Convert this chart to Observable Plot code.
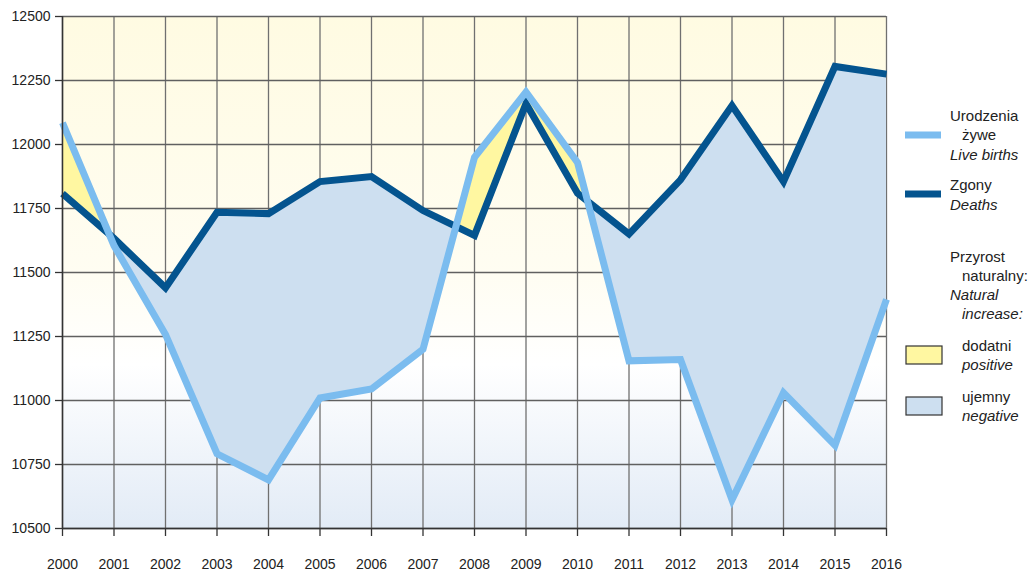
<!DOCTYPE html>
<html>
<head>
<meta charset="utf-8">
<script src="https://cdn.jsdelivr.net/npm/d3@7"></script>
<script src="https://cdn.jsdelivr.net/npm/@observablehq/plot@0.6"></script>
<style>
  html, body { margin: 0; padding: 0; background: #fff; }
  #wrap { position: relative; width: 1032px; height: 575px; font-family: "Liberation Sans", Arial, sans-serif; }
  #legend { position: absolute; left: 0; top: 0; }
</style>
</head>
<body>
<div id="wrap"></div>
<script>
const years  = [2000,2001,2002,2003,2004,2005,2006,2007,2008,2009,2010,2011,2012,2013,2014,2015,2016];
const births = [12085,11605,11258,10792,10690,11010,11045,11200,11950,12205,11930,11155,11160,10612,11030,10825,11395];
const deaths = [11808,11633,11440,11735,11730,11855,11875,11742,11645,12160,11810,11650,11862,12152,11855,12305,12275];
const yTicks = [10500,10750,11000,11250,11500,11750,12000,12250,12500];

const legendLines = [
  {label: ["Urodzenia", "żywe"], en: "Live births", color: "#7bbcef"},
  {label: ["Zgony"], en: "Deaths", color: "#04548f"}
];
const legendTitle = ["Przyrost", "naturalny:"];
const legendTitleEn = ["Natural", "increase:"];
const legendAreas = [
  {label: "dodatni", en: "positive", color: "#fff7a1"},
  {label: "ujemny", en: "negative", color: "#cddff0"}
];

// densify with crossing points so the two fills meet exactly where the lines cross
const dense = [];
for (let i = 0; i < years.length; i++) {
  dense.push({x: years[i], b: births[i], d: deaths[i]});
  if (i < years.length - 1) {
    const s0 = births[i] - deaths[i], s1 = births[i+1] - deaths[i+1];
    if (s0 * s1 < 0) {
      const t = s0 / (s0 - s1);
      const v = births[i] + t * (births[i+1] - births[i]);
      dense.push({x: years[i] + t * (years[i+1] - years[i]), b: v, d: v});
    }
  }
}
const lineData = years.map((y, i) => ({x: y, b: births[i], d: deaths[i]}));

const W = 1032;
const plot = Plot.plot({
  width: W,
  height: 575,
  marginLeft: 62,
  marginRight: W - 886,
  marginTop: 16,
  marginBottom: 47,
  style: {fontFamily: "'Liberation Sans', Arial, sans-serif", fontSize: "14px", color: "#222", background: "transparent", overflow: "visible"},
  x: {domain: [2000, 2016], ticks: years, tickFormat: d => String(d), label: null, tickSize: 8, tickPadding: 23},
  y: {domain: [10500, 12500], ticks: yTicks, tickFormat: d => String(d), label: null, tickSize: 7, tickPadding: 5},
  marks: [
    Plot.frame({fill: "url(#bgGrad)", stroke: null}),
    Plot.ruleX(years, {stroke: "#707070", strokeWidth: 1.3}),
    Plot.ruleY(yTicks, {stroke: "#606060", strokeWidth: 1.3}),
    Plot.areaY(dense, {x: "x", y1: "d", y2: d => Math.max(d.b, d.d), fill: "#fff7a1", curve: "linear"}),
    Plot.areaY(dense, {x: "x", y1: d => Math.min(d.b, d.d), y2: "d", fill: "#cddff0", curve: "linear"}),
    Plot.line(lineData, {x: "x", y: "d", stroke: "#04548f", strokeWidth: 7, strokeLinejoin: "miter", strokeLinecap: "butt", strokeMiterlimit: 10}),
    Plot.line(lineData, {x: "x", y: "b", stroke: "#7bbcef", strokeWidth: 7, strokeLinejoin: "miter", strokeLinecap: "butt", strokeMiterlimit: 10}),
    Plot.axisX({ticks: years, tickFormat: d => String(d), tickSize: 8, tickPadding: 23, stroke: "#333", strokeWidth: 1.3}),
    Plot.axisY({ticks: yTicks, tickFormat: d => String(d), tickSize: 7, tickPadding: 5, stroke: "#333", strokeWidth: 1.3}),
    Plot.ruleY([10500], {stroke: "#333", strokeWidth: 1.3}),
    Plot.ruleX([2000], {stroke: "#333", strokeWidth: 1.5})
  ]
});

// gradient background definition
const svgSel = d3.select(plot);
const defs = svgSel.insert("defs", ":first-child");
const grad = defs.append("linearGradient").attr("id", "bgGrad").attr("x1", 0).attr("y1", 0).attr("x2", 0).attr("y2", 1);
[["0%", "#fffbe2"], ["50%", "#fffdf2"], ["68%", "#ffffff"], ["100%", "#e2ebf6"]].forEach(([o, c]) =>
  grad.append("stop").attr("offset", o).attr("stop-color", c));

const wrap = document.getElementById("wrap");
wrap.appendChild(plot);

// legend
const lg = d3.select(wrap).append("svg").attr("id", "legend").attr("width", 1032).attr("height", 575)
  .style("font-family", "'Liberation Sans', Arial, sans-serif").style("font-size", "15px").attr("fill", "#222");
const lx = 905, tx = 950, tx2 = 962;
// line entries
lg.append("line").attr("x1", lx).attr("x2", lx + 36).attr("y1", 135).attr("y2", 135)
  .attr("stroke", legendLines[0].color).attr("stroke-width", 7);
lg.append("text").attr("x", tx).attr("y", 121).text(legendLines[0].label[0]);
lg.append("text").attr("x", tx2).attr("y", 140).text(legendLines[0].label[1]);
lg.append("text").attr("x", tx).attr("y", 160).attr("font-style", "italic").text(legendLines[0].en);

lg.append("line").attr("x1", lx).attr("x2", lx + 36).attr("y1", 194).attr("y2", 194)
  .attr("stroke", legendLines[1].color).attr("stroke-width", 7);
lg.append("text").attr("x", tx).attr("y", 190).text(legendLines[1].label[0]);
lg.append("text").attr("x", tx).attr("y", 210).attr("font-style", "italic").text(legendLines[1].en);

lg.append("text").attr("x", tx).attr("y", 262).text(legendTitle[0]);
lg.append("text").attr("x", tx2).attr("y", 281).text(legendTitle[1]);
lg.append("text").attr("x", tx).attr("y", 300).attr("font-style", "italic").text(legendTitleEn[0]);
lg.append("text").attr("x", tx2).attr("y", 319).attr("font-style", "italic").text(legendTitleEn[1]);

legendAreas.forEach((a, i) => {
  const y0 = 346 + i * 51;
  lg.append("rect").attr("x", 906).attr("y", y0).attr("width", 36).attr("height", 18)
    .attr("fill", a.color).attr("stroke", "#333").attr("stroke-width", 1.2);
  lg.append("text").attr("x", tx2).attr("y", y0 + 5).text(a.label);
  lg.append("text").attr("x", tx2).attr("y", y0 + 24).attr("font-style", "italic").text(a.en);
});
</script>
</body>
</html>
